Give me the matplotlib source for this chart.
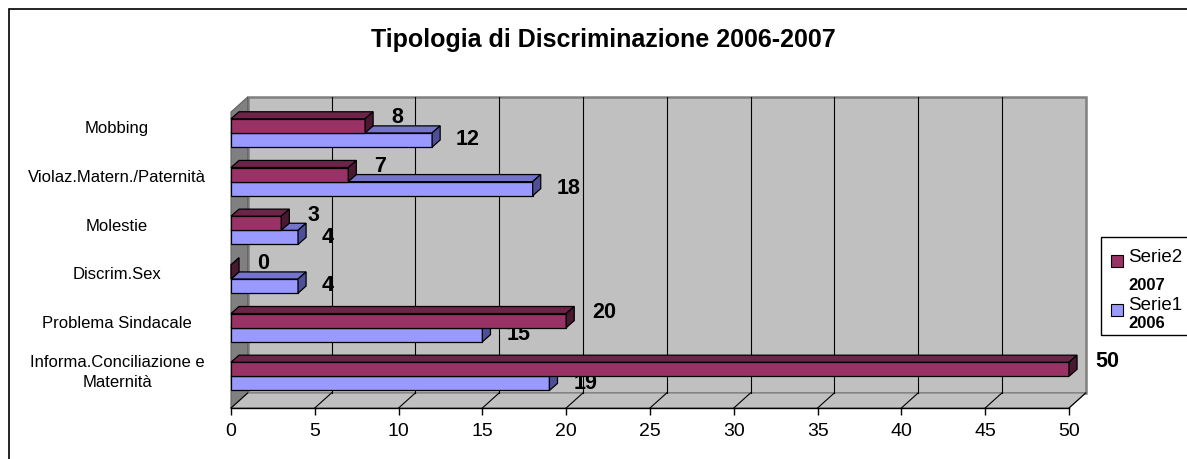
import matplotlib.pyplot as plt
from matplotlib.patches import Polygon, Rectangle
from matplotlib.lines import Line2D

plt.rcParams['font.family'] = ['Liberation Sans', 'DejaVu Sans']

# data
categories = ['Mobbing', 'Violaz.Matern./Paternità', 'Molestie', 'Discrim.Sex',
              'Problema Sindacale', 'Informa.Conciliazione e\nMaternità']
serie2_2007 = [8, 7, 3, 0, 20, 50]
serie1_2006 = [12, 18, 4, 4, 15, 19]
series_names = ['Serie2', 'Serie1']
series_years = ['2007', '2006']
title = 'Tipologia di Discriminazione 2006-2007'

maroon = ('#993366', '#6e2449', '#4a1830')   # front, top, side
blue = ('#9999ff', '#7474cc', '#4f4f99')

W, Hpx = 1187, 459
fig = plt.figure(figsize=(W / 100, Hpx / 100), dpi=100)
ax = fig.add_axes([231/W, 51/Hpx, (1069-231)/W, (408-112)/Hpx])
XMAX = 50
YB, YT = 5.65, -0.43
ax.set_xlim(0, XMAX)
ax.set_ylim(YB, YT)

# 3d depth of walls / bars (data units)
DX, DY = 1.0, 0.31
dx, dy = 0.48, 0.145
H = 0.29

# walls
wall = Polygon([(DX, YT - DY), (XMAX + DX, YT - DY), (XMAX + DX, YB - DY), (DX, YB - DY)],
               closed=True, fc='#c0c0c0', ec='#808080', lw=1.8, clip_on=False, zorder=0)
ax.add_patch(wall)
left = Polygon([(0, YT), (DX, YT - DY), (DX, YB - DY), (0, YB)],
               closed=True, fc='#808080', ec='#606060', lw=0.8, clip_on=False, zorder=0)
ax.add_patch(left)
floor = Polygon([(0, YB), (DX, YB - DY), (XMAX + DX, YB - DY), (XMAX, YB)],
                closed=True, fc='#c0c0c0', ec='#808080', lw=1.0, clip_on=False, zorder=0)
ax.add_patch(floor)
for k in range(5, XMAX, 5):
    ax.add_line(Line2D([k + DX, k + DX], [YT - DY, YB - DY], color='black', lw=0.8,
                       clip_on=False, zorder=0.5))
for k in range(0, XMAX + 1, 5):
    ax.add_line(Line2D([k, k + DX], [YB, YB - DY], color='black', lw=0.8,
                       clip_on=False, zorder=0.5))


def bar3d(y, v, cols, z):
    y0, y1 = y - H / 2, y + H / 2
    ax.barh(y, v, height=H, color=cols[0], edgecolor='black', lw=0.9, zorder=z)
    top = Polygon([(0, y0), (v, y0), (v + dx, y0 - dy), (dx, y0 - dy)], closed=True,
                  fc=cols[1], ec='black', lw=0.9, zorder=z, clip_on=False)
    side = Polygon([(v, y0), (v + dx, y0 - dy), (v + dx, y1 - dy), (v, y1)], closed=True,
                   fc=cols[2], ec='black', lw=0.9, zorder=z, clip_on=False)
    ax.add_patch(top)
    ax.add_patch(side)


for i in range(len(categories)):
    bar3d(i + H / 2, serie1_2006[i], blue, 2 + i)
    bar3d(i - H / 2, serie2_2007[i], maroon, 2.5 + i)
    ax.annotate(str(serie2_2007[i]), (serie2_2007[i], i), xytext=(26, 15),
                textcoords='offset pixels', ha='left', va='center',
                fontsize=15.5, fontweight='bold', annotation_clip=False)
    ax.annotate(str(serie1_2006[i]), (serie1_2006[i], i), xytext=(24, -7),
                textcoords='offset pixels', ha='left', va='center',
                fontsize=15.5, fontweight='bold', annotation_clip=False)
    ax.annotate(categories[i], (0, i), xytext=(-114, 4), textcoords='offset pixels',
                ha='center', va='center', multialignment='center', fontsize=12,
                linespacing=1.45, annotation_clip=False)

# axes styling
for s in ['top', 'right', 'left']:
    ax.spines[s].set_visible(False)
ax.spines['bottom'].set_linewidth(1.0)
ax.spines['bottom'].set_zorder(1)
ax.set_xticks(range(0, XMAX + 1, 5))
ax.tick_params(axis='x', direction='out', length=5, width=1.0, labelsize=14, pad=5.5)
ax.set_yticks([])
ax.patch.set_visible(False)

fig.text(603/W, 1 - 47/Hpx, title, ha='center', va='baseline', fontsize=18,
         fontweight='bold')

# legend box runs off the right edge like the reference
fig.patches.append(Rectangle((1101/W, 1 - 335/Hpx), 0.2, 98/Hpx, transform=fig.transFigure,
                             fc='white', ec='black', lw=1.0))
sq_y = [261, 310]
name_y = [258, 306]
year_y = [285, 323]
for j, (name, yr, c) in enumerate(zip(series_names, series_years, [maroon[0], blue[0]])):
    fig.patches.append(Rectangle((1111/W, 1 - (sq_y[j] + 6) / Hpx), 12/W, 12/Hpx,
                                 transform=fig.transFigure, fc=c, ec='black', lw=0.8))
    fig.text(1128/W, 1 - name_y[j] / Hpx, name, ha='left', va='center', fontsize=13.5)
    fig.text(1128/W, 1 - year_y[j] / Hpx, yr, ha='left', va='center', fontsize=12,
             fontweight='bold')

# outer frame
fig.patches.append(Rectangle((9/W, -0.1), 1.2, 1.1 - 9/Hpx, transform=fig.transFigure,
                             fc='none', ec='black', lw=1.2))

fig.savefig('out.png', dpi=100)
